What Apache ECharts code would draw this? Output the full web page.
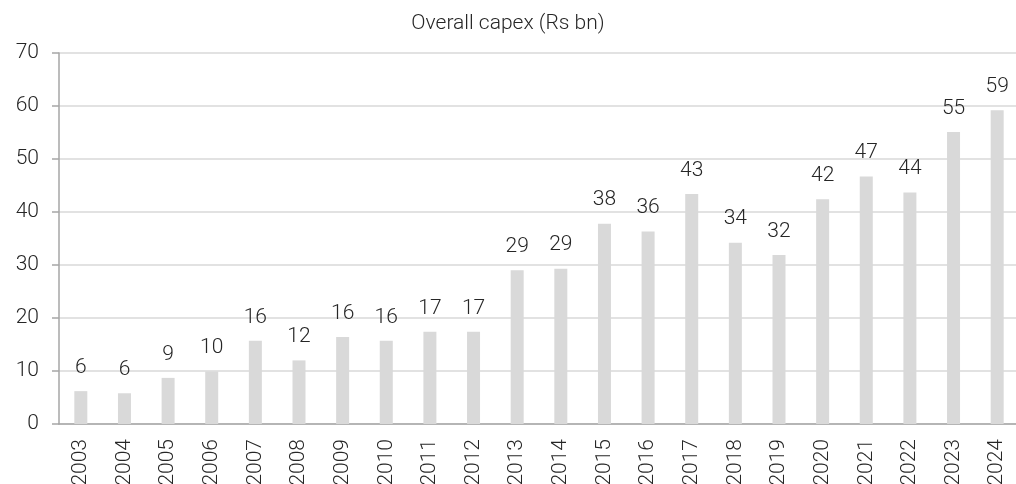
<!DOCTYPE html>
<html>
<head>
<meta charset="utf-8">
<style>
  html, body { margin: 0; padding: 0; background: #ffffff; }
  #chart { width: 1016px; height: 484px; }
</style>
<script src="https://cdn.jsdelivr.net/npm/echarts@6/dist/echarts.min.js"></script>
</head>
<body>
<div id="chart"></div>
<script>
// Fiscal years on the category axis
const years = ['2003', '2004', '2005', '2006', '2007', '2008', '2009', '2010', '2011', '2012', '2013',
               '2014', '2015', '2016', '2017', '2018', '2019', '2020', '2021', '2022', '2023', '2024'];

// Overall capex, Rs bn
const capex = [6.2, 5.8, 8.7, 9.9, 15.7, 12.0, 16.4, 15.7, 17.4, 17.4, 29.0,
               29.3, 37.8, 36.3, 43.4, 34.2, 31.9, 42.4, 46.7, 43.7, 55.1, 59.2];

// Value-axis range and step
const yMin = 0;
const yMax = 70;
const yStep = 10;

const chartTitle = 'Overall capex (Rs bn)';

const chart = echarts.init(document.getElementById('chart'), null, { renderer: 'canvas' });

const font = 'Roboto, "Noto Sans", sans-serif';
const textColor = '#262626';

chart.setOption({
  animation: false,
  backgroundColor: '#ffffff',
  title: {
    text: chartTitle,
    left: 'center',
    top: 8,
    textStyle: { fontFamily: font, fontSize: 21, fontWeight: 300, color: textColor }
  },
  // fixed plot box; year labels are allowed to run past the bottom edge
  grid: { left: 59, right: -3, top: 53, bottom: 60, containLabel: false, outerBoundsMode: 'none' },
  xAxis: {
    type: 'category',
    data: years,
    axisLine: { lineStyle: { color: '#a6a6a6', width: 1.5 } },
    axisTick: { show: false },
    axisLabel: {
      rotate: 90,
      margin: 15,
      fontFamily: font,
      fontSize: 21,
      fontWeight: 300,
      color: textColor,
      interval: 0
    }
  },
  yAxis: {
    type: 'value',
    min: yMin,
    max: yMax,
    interval: yStep,
    axisLine: { show: true, lineStyle: { color: '#a6a6a6', width: 1.5 } },
    axisTick: { show: true, inside: false, length: 7, lineStyle: { color: '#a6a6a6', width: 1.5 } },
    splitLine: { lineStyle: { color: '#d9d9d9', width: 1.5 } },
    axisLabel: {
      margin: 20,
      fontFamily: font,
      fontSize: 21,
      fontWeight: 300,
      color: textColor
    }
  },
  series: [{
    type: 'bar',
    data: capex,
    barWidth: 13,
    itemStyle: { color: '#d9d9d9' },
    label: {
      show: true,
      position: 'top',
      distance: 13,
      fontFamily: font,
      fontSize: 21,
      fontWeight: 300,
      color: textColor,
      formatter: p => String(Math.round(p.value))
    }
  }]
});
</script>
</body>
</html>
